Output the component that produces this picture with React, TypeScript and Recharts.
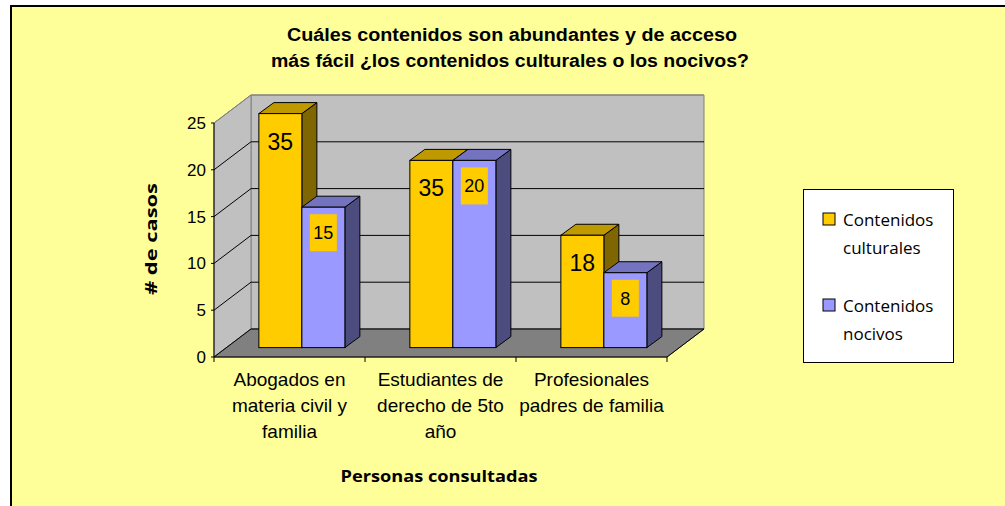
import { BarChart, Bar, XAxis, YAxis, CartesianGrid, LabelList, Legend, Customized } from 'recharts';

const categories = [
  'Abogados en\nmateria civil y\nfamilia',
  'Estudiantes de\nderecho de 5to\naño',
  'Profesionales\npadres de familia',
];
const culturales = [25, 20, 12];
const nocivos = [15, 20, 8];
const culturalesLabels = ['35', '35', '18'];
const nocivosLabels = ['15', '20', '8'];
const yTicks = [0, 5, 10, 15, 20, 25];

const data = categories.map((name, i) => ({
  name,
  culturales: culturales[i],
  nocivos: nocivos[i],
  culturalesLabel: culturalesLabels[i],
  nocivosLabel: nocivosLabels[i],
}));

const W = 1005;
const H = 506;
const PLOT = { left: 214, top: 123, right: 667, bottom: 357 };
const WALL_DX = 37;
const WALL_DY = -28;
// bars stand a bit behind the front plane
const OX = 12.4;
const OY = -9.4;
// bar depth
const DX = 15;
const DY = -11;

const ARIAL = '"Liberation Sans", Arial, sans-serif';
const COMIC = '"Comic Sans MS", "Open Sans", "DejaVu Sans", sans-serif';

const YELLOW = { front: '#FFCC00', top: '#BF9900', side: '#7F6600' };
const BLUE = { front: '#9999FF', top: '#7373BF', side: '#4C4C7F' };

function makeBar(c: { front: string; top: string; side: string }) {
  return (p: any) => {
    const { x, y, width, height } = p;
    if (width == null || height == null) return null;
    const l = x + OX;
    const t = y + OY;
    const r = l + width;
    const b = t + height;
    return (
      <g>
        <polygon
          points={`${r},${t} ${r + DX},${t + DY} ${r + DX},${b + DY} ${r},${b}`}
          fill={c.side}
          stroke="#000"
          strokeWidth={1}
        />
        <polygon
          points={`${l},${t} ${l + DX},${t + DY} ${r + DX},${t + DY} ${r},${t}`}
          fill={c.top}
          stroke="#000"
          strokeWidth={1}
        />
        <rect x={l} y={t} width={width} height={height} fill={c.front} stroke="#000" strokeWidth={1} />
      </g>
    );
  };
}

const gridLine = (p: any) => {
  const { y1, index } = p;
  const { left, top, right, bottom } = PLOT;
  const isTop = Math.abs(y1 - top) < 1;
  const color = isTop ? '#808080' : '#000';
  return (
    <g key={`gl-${index}`}>
      {index === 0 && (
        <g>
          <polygon
            points={`${left + WALL_DX},${top + WALL_DY} ${right + WALL_DX},${top + WALL_DY} ${right + WALL_DX},${bottom + WALL_DY} ${left + WALL_DX},${bottom + WALL_DY}`}
            fill="#C0C0C0"
            stroke="#808080"
          />
          <polygon
            points={`${left},${bottom} ${left},${top} ${left + WALL_DX},${top + WALL_DY} ${left + WALL_DX},${bottom + WALL_DY}`}
            fill="#C0C0C0"
            stroke="#808080"
          />
          <polygon
            points={`${left},${bottom} ${right},${bottom} ${right + WALL_DX},${bottom + WALL_DY} ${left + WALL_DX},${bottom + WALL_DY}`}
            fill="#808080"
            stroke="#606060"
          />
          <line x1={right} y1={bottom} x2={right + WALL_DX} y2={bottom + WALL_DY} stroke="#000" />
        </g>
      )}
      <line x1={left} y1={y1} x2={left + WALL_DX} y2={y1 + WALL_DY} stroke={color} />
      <line x1={left + WALL_DX} y1={y1 + WALL_DY} x2={right + WALL_DX} y2={y1 + WALL_DY} stroke={color} />
    </g>
  );
};

const XTick = (p: any) => {
  const { x, payload, index } = p;
  const band = (PLOT.right - PLOT.left) / categories.length;
  const lines = String(payload.value).split('\n');
  const y0 = PLOT.bottom;
  return (
    <g>
      {index === 0 && <line x1={x - band / 2} y1={y0} x2={x - band / 2} y2={y0 + 5} stroke="#000" />}
      <line x1={x + band / 2} y1={y0} x2={x + band / 2} y2={y0 + 5} stroke="#000" />
      <text textAnchor="middle" fontSize={19} fontFamily={ARIAL} fill="#000">
        {lines.map((ln, i) => (
          <tspan key={i} x={x} y={y0 + 29 + i * 26}>
            {ln}
          </tspan>
        ))}
      </text>
    </g>
  );
};

const culturalesLabel = (p: any) => {
  const { x, y, width, value } = p;
  return (
    <text
      x={x + width / 2 + OX}
      y={y + OY + 36}
      textAnchor="middle"
      fontSize={23}
      fontFamily={ARIAL}
      fill="#000"
    >
      {value}
    </text>
  );
};

const nocivosLabel = (p: any) => {
  const { x, y, width, value } = p;
  const cx = x + width / 2 + OX;
  const t = y + OY + 7;
  return (
    <g>
      <rect x={cx - 13.5} y={t} width={27} height={37} fill="#FFCC00" />
      <text x={cx} y={t + 25} textAnchor="middle" fontSize={18} fontFamily={ARIAL} fill="#000">
        {value}
      </text>
    </g>
  );
};

const LegendBox = (p: any) => {
  const items = p.payload || [];
  return (
    <svg width={152} height={175} style={{ display: 'block' }}>
      <rect x={0.5} y={0.5} width={150} height={173} fill="#fff" stroke="#000" />
      {items.map((it: any, i: number) => {
        const words = String(it.value).split(' ');
        const base = 24 + i * 86;
        return (
          <g key={i}>
            <rect x={20} y={base} width={12} height={12} fill={it.color} stroke="#000" />
            <text fontSize={17} fontFamily={COMIC} fill="#000">
              <tspan x={40} y={base + 13}>
                {words[0]}
              </tspan>
              <tspan x={40} y={base + 41}>
                {words.slice(1).join(' ')}
              </tspan>
            </text>
          </g>
        );
      })}
    </svg>
  );
};

const Titles = () => (
  <g>
    <text x={512} y={41} textAnchor="middle" fontSize={18} fontWeight="bold" fontFamily={ARIAL} textLength={450} lengthAdjust="spacingAndGlyphs">
      Cuáles contenidos son abundantes y de acceso
    </text>
    <text x={510} y={67} textAnchor="middle" fontSize={18} fontWeight="bold" fontFamily={ARIAL} textLength={478} lengthAdjust="spacingAndGlyphs">
      más fácil ¿los contenidos culturales o los nocivos?
    </text>
    <text x={439} y={482} textAnchor="middle" fontSize={16} fontWeight="bold" fontFamily={COMIC} textLength={197} lengthAdjust="spacingAndGlyphs">
      Personas consultadas
    </text>
    <text
      x={157}
      y={239}
      textAnchor="middle"
      fontSize={16}
      fontWeight="bold"
      fontFamily={COMIC}
      textLength={112}
      lengthAdjust="spacingAndGlyphs"
      transform="rotate(-90, 157, 239)"
    >
      # de casos
    </text>
  </g>
);

export default function App() {
  return (
    <div style={{ position: 'absolute', left: 0, top: 0, width: W, height: H, overflow: 'hidden', background: '#fff' }}>
      <div
        style={{
          position: 'absolute',
          left: 10,
          top: 5,
          width: 1100,
          height: 600,
          background: '#FFFF99',
          border: '2px solid #000',
        }}
      />
      <div style={{ position: 'absolute', left: 0, top: 0 }}>
        <BarChart
          width={W}
          height={H}
          data={data}
          margin={{ top: PLOT.top, right: W - PLOT.right, bottom: H - PLOT.bottom - 30, left: PLOT.left - 60 }}
          barCategoryGap="21.5%"
          barGap={0}
        >
          <CartesianGrid vertical={false} horizontal={gridLine} />
          <XAxis
            dataKey="name"
            height={30}
            interval={0}
            tickLine={false}
            tickSize={0}
            tickMargin={0}
            axisLine={{ stroke: '#000' }}
            tick={XTick}
          />
          <YAxis
            width={60}
            domain={[0, 25]}
            ticks={yTicks}
            interval={0}
            tickSize={3}
            tickMargin={5}
            axisLine={{ stroke: '#000' }}
            tickLine={{ stroke: '#000' }}
            tick={{ fontSize: 17, fill: '#000', fontFamily: ARIAL }}
          />
          <Legend
            layout="horizontal"
            verticalAlign="middle"
            align="center"
            content={LegendBox}
            wrapperStyle={{ position: 'absolute', left: 803, top: 189, width: 152, height: 175 }}
          />
          <Bar
            dataKey="culturales"
            name="Contenidos culturales"
            fill={YELLOW.front}
            shape={makeBar(YELLOW)}
            isAnimationActive={false}
          >
            <LabelList dataKey="culturalesLabel" content={culturalesLabel} />
          </Bar>
          <Bar
            dataKey="nocivos"
            name="Contenidos nocivos"
            fill={BLUE.front}
            shape={makeBar(BLUE)}
            isAnimationActive={false}
          >
            <LabelList dataKey="nocivosLabel" content={nocivosLabel} />
          </Bar>
          <Customized component={Titles} />
        </BarChart>
      </div>
    </div>
  );
}
